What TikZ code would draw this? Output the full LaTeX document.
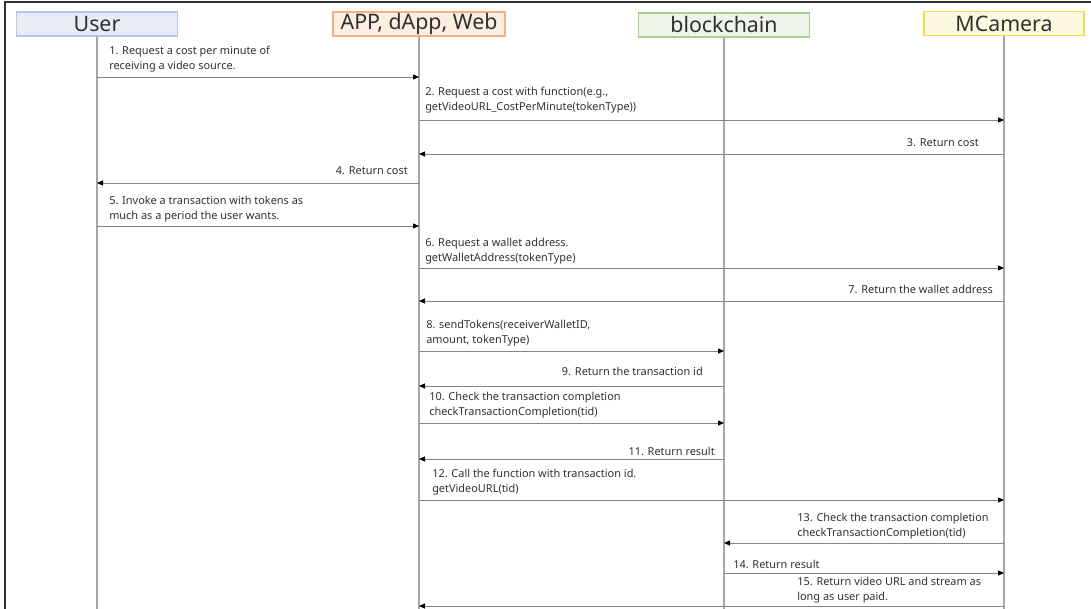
\documentclass[tikz,border=0pt]{standalone}
\usepackage{fontspec}
\setmainfont{Noto Sans}
\usepackage{tikz}
\usetikzlibrary{arrows.meta}

\definecolor{userfill}{HTML}{E8ECF5}
\definecolor{userline}{HTML}{B4C7E7}
\definecolor{appfill}{HTML}{FDEEE2}
\definecolor{appline}{HTML}{F4B183}
\definecolor{chainfill}{HTML}{EEF4EA}
\definecolor{chainline}{HTML}{A9D18E}
\definecolor{camfill}{HTML}{FDF9E1}
\definecolor{camline}{HTML}{F2DE4C}
\definecolor{lifegray}{HTML}{A6A6A6}
\definecolor{msggray}{HTML}{858585}
\definecolor{txtgray}{HTML}{303030}

\begin{document}
\begin{tikzpicture}[x=0.75pt,y=-0.75pt,
  actor/.style={draw, line width=1.1pt, inner sep=0pt, minimum height=18pt,
    font=\fontsize{16}{18}\selectfont, text=txtgray},
  life/.style={draw=lifegray, line width=0.8pt},
  msg/.style={draw=msggray, line width=0.7pt, -{Triangle[length=4.5pt,width=3.8pt,color=black]}},
  lbl/.style={inner sep=0pt, align=left, text=txtgray,
    font=\fontsize{8.2}{10.8}\selectfont}]
\useasboundingbox (0,0) rectangle (1091,609);
\draw[line width=1.1pt, draw=txtgray] (5,609) -- (5,2) -- (1091,2);

\node[actor, fill=userfill, draw=userline, minimum width=120.75pt] (user) at (97,24) {User};
\node[actor, fill=appfill, draw=appline, minimum width=129pt] (app) at (419,24) {APP, dApp, Web};
\node[actor, fill=chainfill, draw=chainline, minimum width=128.25pt] (chain) at (724,25) {blockchain};
\node[actor, fill=camfill, draw=camline, minimum width=120pt] (cam) at (1004,23.5) {MCamera};

\coordinate (userE) at (97,609);
\coordinate (appE) at (419,609);
\coordinate (chainE) at (724,609);
\coordinate (camE) at (1004,609);
\draw[life] (user.south) -- (userE);
\draw[life] (app.south) -- (appE);
\draw[life] (chain.south) -- (chainE);
\draw[life] (cam.south) -- (camE);

\coordinate (m1) at (0,77);
\coordinate (m2) at (0,120);
\coordinate (m3) at (0,154);
\coordinate (m4) at (0,183);
\coordinate (m5) at (0,226);
\coordinate (m6) at (0,268);
\coordinate (m7) at (0,301);
\coordinate (m8) at (0,351);
\coordinate (m9) at (0,386);
\coordinate (m10) at (0,423);
\coordinate (m11) at (0,459);
\coordinate (m12) at (0,500);
\coordinate (m13) at (0,543);
\coordinate (m14) at (0,573);
\coordinate (m15) at (0,606);

\draw[msg] (user |- m1) -- (app |- m1);
\draw[msg] (app |- m2) -- (cam |- m2);
\draw[msg] (cam |- m3) -- (app |- m3);
\draw[msg] (app |- m4) -- (user |- m4);
\draw[msg] (user |- m5) -- (app |- m5);
\draw[msg] (app |- m6) -- (cam |- m6);
\draw[msg] (cam |- m7) -- (app |- m7);
\draw[msg] (app |- m8) -- (chain |- m8);
\draw[msg] (chain |- m9) -- (app |- m9);
\draw[msg] (app |- m10) -- (chain |- m10);
\draw[msg] (chain |- m11) -- (app |- m11);
\draw[msg] (app |- m12) -- (cam |- m12);
\draw[msg] (cam |- m13) -- (chain |- m13);
\draw[msg] (chain |- m14) -- (cam |- m14);
\draw[msg] (cam |- m15) -- (app |- m15);

\node[lbl, anchor=south west] (l1) at (109,72) {1. Request a cost per minute of\\receiving a video source.};
\node[lbl, anchor=south west] (l2) at (425,113) {2. Request a cost with function(e.g.,\\getVideoURL\_CostPerMinute(tokenType))};
\node[lbl, anchor=south east] (l3) at (979,147) {3. Return cost};
\node[lbl, anchor=south east] (l4) at (408,175) {4. Return cost};
\node[lbl, anchor=south west] (l5) at (109,222) {5. Invoke a transaction with tokens as\\much as a period the user wants.};
\node[lbl, anchor=south west] (l6) at (425,264) {6. Request a wallet address.\\getWalletAddress(tokenType)};
\node[lbl, anchor=south east] (l7) at (993,294) {7. Return the wallet address};
\node[lbl, anchor=south west] (l8) at (426,346) {8. sendTokens(receiverWalletID,\\amount, tokenType)};
\node[lbl, anchor=south east] (l9) at (703,376) {9. Return the transaction id};
\node[lbl, anchor=south west] (l10) at (429,418) {10. Check the transaction completion\\checkTransactionCompletion(tid)};
\node[lbl, anchor=south east] (l11) at (715,456) {11. Return result};
\node[lbl, anchor=south west] (l12) at (432,495) {12. Call the function with transaction id.\\getVideoURL(tid)};
\node[lbl, anchor=south west] (l13) at (797,539) {13. Check the transaction completion\\checkTransactionCompletion(tid)};
\node[lbl, anchor=south west] (l14) at (733,569) {14. Return result};
\node[lbl, anchor=south west] (l15) at (797,603) {15. Return video URL and stream as\\long as user paid.};
\end{tikzpicture}
\end{document}
